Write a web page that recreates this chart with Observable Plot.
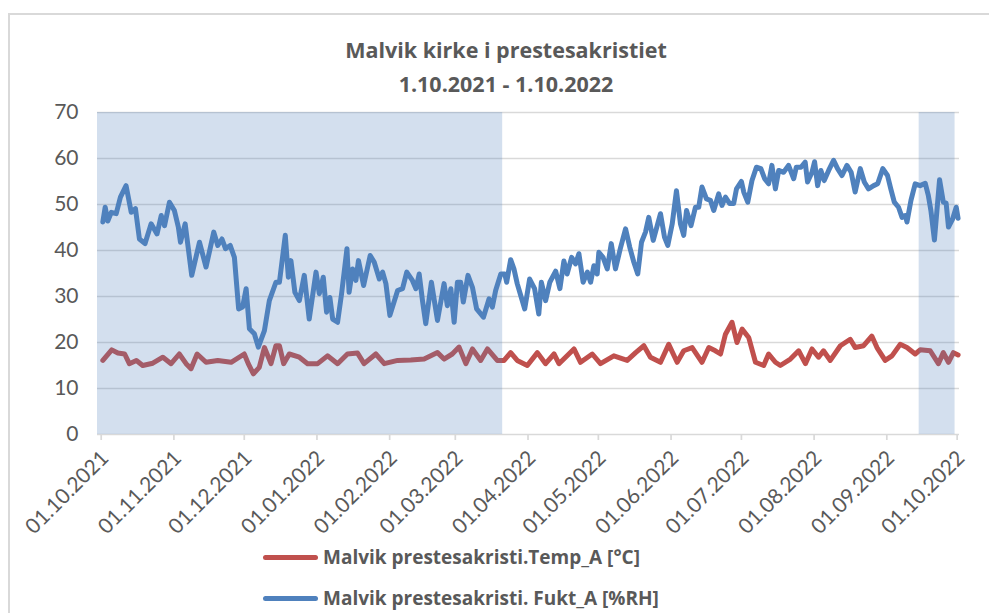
<!DOCTYPE html>
<html>
<head>
<meta charset="utf-8">
<script src="https://cdn.jsdelivr.net/npm/d3@7"></script>
<script src="https://cdn.jsdelivr.net/npm/@observablehq/plot@0.6"></script>
<style>
  html, body { margin: 0; padding: 0; background: #fff; }
  #wrap { position: relative; width: 989px; height: 613px; overflow: hidden; font-family: Lato, "Open Sans", sans-serif; }
  #frame { position: absolute; left: 8px; top: 13px; width: 1100px; height: 800px; border: 2px solid #D9D9D9; box-sizing: border-box; }
  #title { position: relative; width: 989px; height: 90px; box-sizing: border-box; padding-left: 23px; padding-top: 33px; text-align: center; color: #595959; font-family: "Open Sans", sans-serif; font-weight: 700; font-size: 21.5px; line-height: 34px; }
  #chart svg { display: block; }
  #legend { position: absolute; left: 0; top: 540px; width: 989px; }
  .row { position: absolute; left: 263px; display: flex; align-items: center; height: 26px; color: #595959; font-family: "Open Sans", sans-serif; font-weight: 700; font-size: 19px; }
  .sw { width: 55px; height: 5px; border-radius: 3px; margin-right: 5px; }
</style>
</head>
<body>
<div id="wrap">
  <div id="frame"></div>
  <div id="title">Malvik kirke i prestesakristiet<br>1.10.2021 - 1.10.2022</div>
  <div id="chart"></div>
  <div id="legend"></div>
</div>
<script>
// Day offsets from 01.10.2021 and readings
const humDays = [0.7,1.7,2.8,4.3,6.4,8.2,10.6,12.8,14.6,16.3,18.7,21.3,23.8,25.6,27,29.1,31.2,32.9,33.8,35.8,38.6,41.9,44.7,48,49.7,51.5,53,55,56.8,58.6,60.3,61.8,63.2,65.3,67,69.6,71.7,74.5,76,78.5,79.8,80.9,82.6,84.5,86.6,88.7,91.6,93,94.7,96.1,97.5,98.7,100.8,102.5,104.8,105.7,107.2,108.6,109.7,111.9,114.7,116.4,118.6,120,121.4,123.1,126.4,128.5,130.3,132.7,134.2,135.6,137,138.4,140.8,143.4,146.2,147.6,149.1,150.5,151.9,153.3,154.4,156.4,158.3,160.1,163,165.4,166.8,168.2,170.4,172.1,172.9,174.6,176,177.4,178.9,180.6,182.7,184.8,186.6,187.7,189.5,191.3,193.8,195.6,197.3,198.7,200.6,202.3,203.7,205.5,207.3,208.7,210.1,211.5,212.2,214,215.8,217.5,219.3,221.5,223.6,225.4,227.1,228.8,230.4,232.1,233.5,235.4,237.1,238.5,240.2,241.6,243.5,245.3,247,248.4,249.6,251.5,253.4,254.8,256.2,258.1,259.8,261.2,263.3,264.7,266.2,268,269.7,270.9,273,274,275.7,277.5,279.4,281.3,282.9,284.6,286,287.5,288.9,291,293.1,295.3,296.4,298.4,300.2,301.2,303.1,304.2,305.5,306.9,308.3,310.2,312.3,314,315.9,318,319.8,321.5,323.7,325.4,327.2,329.4,331.1,333.3,335.3,336.7,338.2,340,341.5,342.9,343.6,345.3,347.1,349.2,351.4,352.7,353.8,355.3,357.5,359.1,360.3,361.3,363.1,364.6,365.4];
const humValues = [46.2,49.4,46.4,48.3,48,51.6,54.1,48.3,49.1,42.5,41.5,45.8,43.6,47.6,45.4,50.5,48.7,45.1,41.8,45.8,34.6,41.8,36.4,44,41.1,42.5,40.4,41.1,38.5,27.3,27.7,31.7,23,21.9,19,22.6,29.1,33.1,33.1,43.3,34.2,37.8,30.9,29.1,34.6,25.1,35.3,30.6,34.2,26.6,29.8,25.1,24.4,30.6,40.4,30.9,36,33.5,37.8,32.4,38.9,37.5,33.8,35.3,32.8,25.9,31.3,31.7,35.3,33.5,31.7,34.9,29.1,24.1,33.1,24.8,32.8,28,31.7,24.4,33.1,33.1,28.8,34.6,32,27.3,25.5,29.5,27.7,31.3,34.9,34.9,33.1,38,36,32.8,30.2,27.3,33.8,31.7,26.2,33.1,29.1,33.1,35.5,31.7,37.7,34.9,38.5,37.1,39.3,33.1,35.3,33.1,36.7,34.9,39.6,38.5,36,41.5,36,40.7,44.7,40.7,37.5,34.9,41.8,44,47.2,42.2,45.4,48,42.9,41.1,45.8,53,45.8,43.3,48.7,45.4,49.4,49.4,53.8,51.2,50.9,48.7,52.3,49.8,51.6,50.2,50.2,53.4,55,52.7,50.5,55.2,58.1,57.8,55.6,54.5,58.5,53.4,57.4,57,58.5,55.6,58.1,58.1,59.2,54.9,57,59.3,54.1,57.4,55.2,57.4,59.6,57.8,56.3,58.5,57,52.7,57.8,54.9,53.4,54.1,54.5,57.8,56.3,53.4,50.5,49.4,47.2,47.6,46.2,50.9,54.5,54.1,54.6,52,48.7,42.3,55.4,50.5,50.3,45.1,46.9,49.4,47];

const tempDays = [0.7,4.5,7.1,10,12,15,17.7,22,26.3,29.8,33.3,36.2,38.3,40.9,44.7,49.7,55.4,61,62.7,64.9,67.4,69.6,72.4,74.5,76,77.8,80.2,84.5,88,92.3,96.5,100.8,105,109.3,112.1,117.1,120.7,126.4,132,137.7,143.4,146.2,149.7,152.6,155.5,158.3,161.8,164.7,168.9,171.8,174.6,177.4,181.7,186,189.5,193.1,195.2,201.6,204.4,209.4,212.9,218.6,224.3,227.9,231.4,234.2,238.5,242,245.6,248.4,252,256.2,259.1,261.9,264.1,266.2,269,271.1,273.3,276.1,279,282.5,284.6,287.5,289.6,293.9,297.4,300.3,303.1,305.9,308,310.9,315.2,319.4,321.5,325.1,328.6,330.8,334.3,337.2,340.7,343.6,347.1,349.2,353.5,357,359.1,361.3,363.4,365.4];
const tempValues = [16.1,18.4,17.7,17.5,15.4,16.1,15,15.5,16.8,15.4,17.5,15.4,14.3,17.5,15.7,16.1,15.7,17.5,15.4,13.2,14.6,18.9,15.4,19.3,19.3,15.4,17.5,16.8,15.4,15.4,17.1,15.4,17.5,17.7,15.4,17.5,15.4,16.1,16.2,16.4,17.8,16.4,17.5,19,15.4,18.6,16.1,18.6,16.1,16.1,17.8,16.1,15,17.8,15.4,17.5,15.4,18.6,15.7,17.5,15.4,17.1,16.1,17.8,19.3,16.8,15.7,19.6,15.7,18.2,18.9,15.7,18.9,18.2,17.5,21.8,24.4,20,22.9,21.1,15.7,15,17.5,15.7,15,16.4,18.2,15.4,18.6,16.8,18.2,16.1,19.3,20.7,18.9,19.3,21.4,18.9,16.1,17.1,19.6,18.9,17.5,18.4,18.2,15.4,17.8,15.7,17.8,17.3];

// Shaded periods (day offsets)
const bandStarts = [-1.58, 348.8];
const bandEnds = [171.2, 364.1];

const yTicks = [0, 10, 20, 30, 40, 50, 60, 70];
const xTickLabels = ["01.10.2021","01.11.2021","01.12.2021","01.01.2022","01.02.2022","01.03.2022","01.04.2022","01.05.2022","01.06.2022","01.07.2022","01.08.2022","01.09.2022","01.10.2022"];

const seriesNames = ["Malvik prestesakristi.Temp_A [°C]", "Malvik prestesakristi. Fukt_A [%RH]"];
const seriesColors = ["#C0504D", "#4F81BD"];

const t0 = Date.UTC(2021, 9, 1);
const toDate = d => new Date(t0 + d * 864e5);
const parseLabel = s => { const [dd, mm, yy] = s.split(".").map(Number); return new Date(Date.UTC(yy, mm - 1, dd)); };

const hum = humDays.map((d, i) => ({date: toDate(d), value: humValues[i]}));
const temp = tempDays.map((d, i) => ({date: toDate(d), value: tempValues[i]}));
const bands = bandStarts.map((s, i) => ({start: toDate(s), end: toDate(bandEnds[i])}));
const xTicks = xTickLabels.map(parseLabel);

const chart = Plot.plot({
  width: 989,
  height: 450,
  marginLeft: 97,
  marginRight: 30,
  marginTop: 22,
  marginBottom: 106,
  style: {fontFamily: "Lato, 'Open Sans', sans-serif", fontSize: "21px", background: "transparent", color: "#595959"},
  x: {type: "utc", domain: [toDate(-1.58), toDate(366)]},
  y: {domain: [0, 70]},
  marks: [
    Plot.ruleY(yTicks.filter(d => d > 0), {stroke: "#D9D9D9", strokeWidth: 1.7}),
    Plot.ruleY([0], {stroke: "#D9D9D9", strokeWidth: 1.7}),
    Plot.axisY({ticks: yTicks, tickSize: 0, tickPadding: 19, label: null, fill: "#595959", fontSize: 21}),
    Plot.axisX({ticks: xTicks, tickSize: 6, stroke: "#D9D9D9", strokeWidth: 1.7, tickFormat: () => "", label: null}),
    Plot.axisX({ticks: xTicks, tickSize: 0, fill: "#595959", tickFormat: (d, i) => xTickLabels[i], tickRotate: -45, tickPadding: 20, dx: 4, label: null, fontSize: 21}),
    Plot.lineY(temp, {x: "date", y: "value", stroke: seriesColors[0], strokeWidth: 5, strokeLinejoin: "round", strokeLinecap: "round"}),
    Plot.rect(bands, {x1: "start", x2: "end", y1: 0, y2: 70, fill: "#4F81BD", fillOpacity: 0.25}),
    Plot.lineY(hum, {x: "date", y: "value", stroke: seriesColors[1], strokeWidth: 5, strokeLinejoin: "round", strokeLinecap: "round"})
  ]
});
document.getElementById("chart").appendChild(chart);

const legend = document.getElementById("legend");
seriesNames.forEach((name, i) => {
  const row = document.createElement("div");
  row.className = "row";
  row.style.top = (4 + i * 41) + "px";
  const sw = document.createElement("div");
  sw.className = "sw";
  sw.style.background = seriesColors[i];
  const tx = document.createElement("span");
  tx.textContent = name;
  row.appendChild(sw);
  row.appendChild(tx);
  legend.appendChild(row);
});
</script>
</body>
</html>
